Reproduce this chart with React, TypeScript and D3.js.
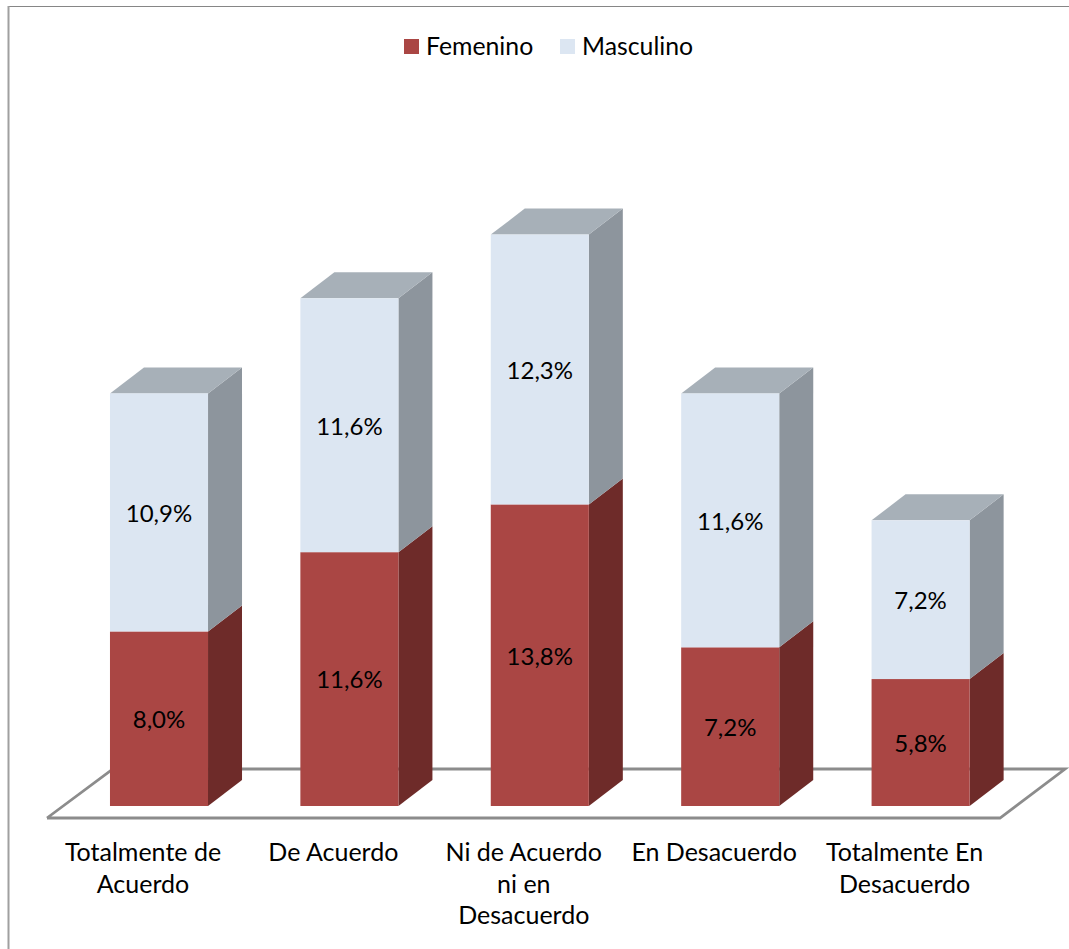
import React from 'react'
import * as d3 from 'd3'

const categories = ['Totalmente de Acuerdo', 'De Acuerdo', 'Ni de Acuerdo ni en Desacuerdo', 'En Desacuerdo', 'Totalmente En Desacuerdo']
const categoryLines = [['Totalmente de', 'Acuerdo'], ['De Acuerdo'], ['Ni de Acuerdo', 'ni en', 'Desacuerdo'], ['En Desacuerdo'], ['Totalmente En', 'Desacuerdo']]
// bar heights in the picture fit these better than the rounded labels do
const femenino = [7.97, 11.59, 13.77, 7.246, 5.797]
const masculino = [10.87, 11.59, 12.32, 11.59, 7.246]
const seriesNames = ['Femenino', 'Masculino']

const FONT = 'Lato, "Open Sans", sans-serif'

// bar colours: front, side, top
const colors = [
  { front: '#AA4644', side: '#6E2B29', top: '#8A3A38' },
  { front: '#DCE6F2', side: '#8D959D', top: '#A7B0B8' },
]

const depthX = 34
const depthY = -26

const fmt = (v: number) => v.toFixed(1).replace('.', ',') + '%'

export default function App() {
  const x = d3.scaleBand<string>()
    .domain(categories)
    .range([63.8, 1015.8])
    .paddingInner(0.485)
    .paddingOuter(0.2425)

  const y = d3.scaleLinear().domain([0, 26.09]).range([806, 234.6])

  const rows = categories.map((c, i) => ({ category: c, Femenino: femenino[i], Masculino: masculino[i] }))
  const stacked = d3.stack<any>().keys(seriesNames)(rows)

  const line = d3.line()
  const floorY = y(0)
  const floorFront = floorY + 12
  const floorBack = floorY - 37
  const floor = line([[47, floorFront], [113, floorBack], [1065, floorBack], [1000, floorFront], [47, floorFront]])!

  return (
    <svg width={1069} height={949} style={{ position: 'absolute', left: 0, top: 0, display: 'block', background: '#fff' }} fontFamily={FONT}>
      {/* outer frame, only top and left show */}
      <line x1={8} y1={6.5} x2={1069} y2={6.5} stroke="#868686" strokeWidth={1.2} />
      <line x1={8.5} y1={6} x2={8.5} y2={949} stroke="#a0a0a0" strokeWidth={2} />

      <path d={floor} fill="#fff" stroke="#8C8C8C" strokeWidth={2.8} />

      {stacked.map((s, si) => (
        <g key={s.key}>
          {s.map((d, i) => {
            const x0 = x(categories[i])!
            const w = x.bandwidth()
            const y0 = y(d[0])
            const y1 = y(d[1])
            const col = colors[si]
            return (
              <g key={i}>
                <path
                  d={line([[x0 + w, y1], [x0 + w + depthX, y1 + depthY], [x0 + w + depthX, y0 + depthY], [x0 + w, y0]])! + 'Z'}
                  fill={col.side}
                />
                {si === 1 && (
                  <path
                    d={line([[x0, y1], [x0 + depthX, y1 + depthY], [x0 + w + depthX, y1 + depthY], [x0 + w, y1]])! + 'Z'}
                    fill={col.top}
                  />
                )}
                <rect x={x0} y={y1} width={w} height={y0 - y1} fill={col.front} />
                <text
                  x={x0 + w / 2}
                  y={(y0 + y1) / 2 + 1}
                  dy="0.35em"
                  textAnchor="middle"
                  fontSize={24}
                  fill="#000"
                >
                  {fmt(d[1] - d[0])}
                </text>
              </g>
            )
          })}
        </g>
      ))}

      {categoryLines.map((lines, i) => (
        <text key={i} textAnchor="middle" fontSize={25} fill="#000">
          {lines.map((t, j) => (
            <tspan key={j} x={x(categories[i])! + x.bandwidth() / 2 - 16} y={861 + j * 31.5}>{t}</tspan>
          ))}
        </text>
      ))}

      {/* legend */}
      <g fontSize={24.8} fill="#000">
        <rect x={404} y={39} width={15} height={15} fill={colors[0].front} />
        <text x={426} y={55}>{seriesNames[0]}</text>
        <rect x={560} y={39} width={15} height={15} fill={colors[1].front} />
        <text x={582} y={55}>{seriesNames[1]}</text>
      </g>
    </svg>
  )
}
